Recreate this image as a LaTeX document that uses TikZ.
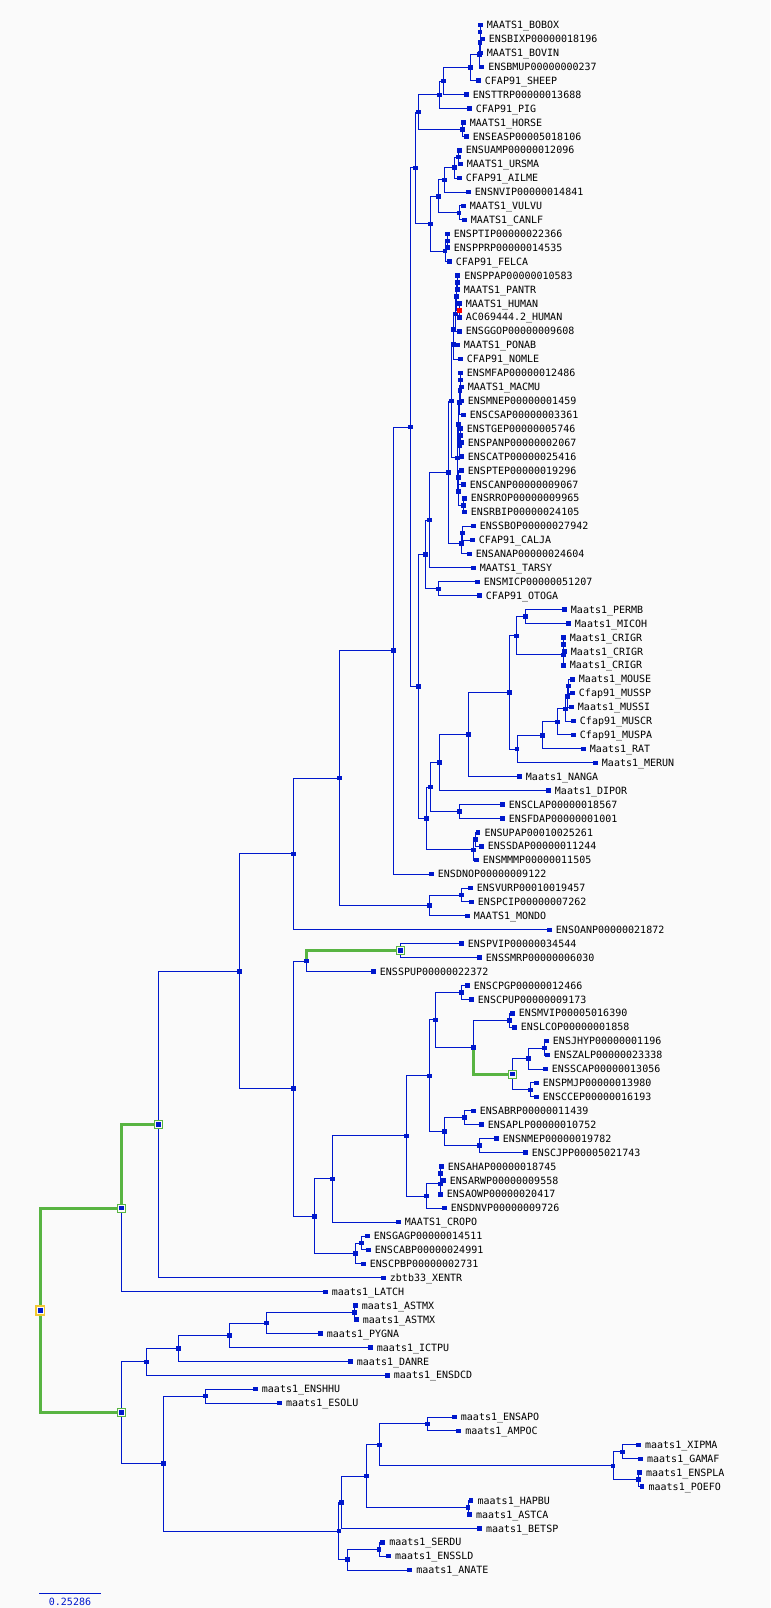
\documentclass[tikz,border=0pt]{standalone}
\usepackage{fontspec}
\setmonofont{DejaVu Sans Mono}
\usepackage{xcolor}
\usepackage{tikz}
\usetikzlibrary{positioning,calc,backgrounds}
\definecolor{treeblue}{RGB}{0,24,204}
\definecolor{selgreen}{RGB}{88,180,66}
\definecolor{rootyel}{RGB}{240,200,50}
\definecolor{hired}{RGB}{255,0,0}
\definecolor{bg}{RGB}{250,250,250}

\begin{document}
\begin{tikzpicture}[x=1pt, y=-13.92pt,
        dot/.style={rectangle, fill=treeblue, minimum size=4.5pt, inner sep=0pt},
        leaf/.style={dot},
        lbl/.style={font=\ttfamily\fontsize{10}{12}\selectfont, inner sep=1pt, text height=7.3pt, text depth=0pt, label distance=3pt},
        box/.style={rectangle, draw=selgreen, line width=1pt, fill=bg, minimum size=8pt, inner sep=0pt,
            path picture={\fill[treeblue] ([shift={(-2.25pt,-2.25pt)}]path picture bounding box.center) rectangle +(4.5pt,4.5pt);}},
        rootbox/.style={box, draw=rootyel, line width=1.6pt, minimum size=8.5pt},
        edge/.style={treeblue, line width=1pt},
        hilite/.style={selgreen, line width=3.2pt}
    ]
        \useasboundingbox (0,-0.796) rectangle (770,114.72);

        % leaves
        \foreach \k/\xx/\lab in {
            1/480.3/MAATS1\_BOBOX, 2/482.3/ENSBIXP00000018196, 3/480.3/MAATS1\_BOVIN,
            4/481.7/ENSBMUP00000000237, 5/478.3/CFAP91\_SHEEP, 6/466.3/ENSTTRP00000013688,
            7/469.3/CFAP91\_PIG, 8/463.3/MAATS1\_HORSE, 9/466.3/ENSEASP00005018106,
            10/459.3/ENSUAMP00000012096, 11/460.3/MAATS1\_URSMA, 12/459.3/CFAP91\_AILME,
            13/468.3/ENSNVIP00000014841, 14/463.3/MAATS1\_VULVU, 15/464.3/MAATS1\_CANLF,
            16/447.3/ENSPTIP00000022366, 17/447.3/ENSPPRP00000014535, 18/449.3/CFAP91\_FELCA,
            19/457.7/ENSPPAP00000010583, 20/457.3/MAATS1\_PANTR, 21/459.3/MAATS1\_HUMAN,
            22/459.3/AC069444.2\_HUMAN, 23/459.3/ENSGGOP00000009608, 24/457.3/MAATS1\_PONAB,
            25/460.3/CFAP91\_NOMLE, 26/460.3/ENSMFAP00000012486, 27/461.3/MAATS1\_MACMU,
            28/461.3/ENSMNEP00000001459, 29/463.3/ENSCSAP00000003361, 30/460.3/ENSTGEP00000005746,
            31/461.3/ENSPANP00000002067, 32/461.3/ENSCATP00000025416, 33/461.3/ENSPTEP00000019296,
            34/463.3/ENSCANP00000009067, 35/464.3/ENSRROP00000009965, 36/464.3/ENSRBIP00000024105,
            37/473.3/ENSSBOP00000027942, 38/472.3/CFAP91\_CALJA, 39/469.3/ENSANAP00000024604,
            40/473.3/MAATS1\_TARSY, 41/477.3/ENSMICP00000051207, 42/479.3/CFAP91\_OTOGA,
            43/564.3/Maats1\_PERMB, 44/568.3/Maats1\_MICOH, 45/563.3/Maats1\_CRIGR,
            46/564.3/Maats1\_CRIGR, 47/563.3/Maats1\_CRIGR, 48/572.3/Maats1\_MOUSE,
            49/572.3/Cfap91\_MUSSP, 50/571.3/Maats1\_MUSSI, 51/573.3/Cfap91\_MUSCR,
            52/573.3/Cfap91\_MUSPA, 53/583.3/Maats1\_RAT, 54/595.3/Maats1\_MERUN,
            55/519.3/Maats1\_NANGA, 56/548.3/Maats1\_DIPOR, 57/502.3/ENSCLAP00000018567,
            58/502.3/ENSFDAP00000001001, 59/478.0/ENSUPAP00010025261, 60/481.3/ENSSDAP00000011244,
            61/476.3/ENSMMMP00000011505, 62/431.3/ENSDNOP00000009122, 63/470.3/ENSVURP00010019457,
            64/471.3/ENSPCIP00000007262, 65/467.3/MAATS1\_MONDO, 66/549.3/ENSOANP00000021872,
            67/461.3/ENSPVIP00000034544, 68/479.3/ENSSMRP00000006030, 69/373.3/ENSSPUP00000022372,
            70/467.3/ENSCPGP00000012466, 71/471.3/ENSCPUP00000009173, 72/512.3/ENSMVIP00005016390,
            73/514.3/ENSLCOP00000001858, 74/546.3/ENSJHYP00000001196, 75/547.3/ENSZALP00000023338,
            76/545.3/ENSSCAP00000013056, 77/536.3/ENSPMJP00000013980, 78/536.3/ENSCCEP00000016193,
            79/473.3/ENSABRP00000011439, 80/481.3/ENSAPLP00000010752, 81/496.3/ENSNMEP00000019782,
            82/525.3/ENSCJPP00005021743, 83/441.3/ENSAHAP00000018745, 84/443.3/ENSARWP00000009558,
            85/440.3/ENSAOWP00000020417, 86/444.3/ENSDNVP00000009726, 87/398.3/MAATS1\_CROPO,
            88/367.3/ENSGAGP00000014511, 89/368.3/ENSCABP00000024991, 90/363.3/ENSCPBP00000002731,
            91/383.3/zbtb33\_XENTR, 92/325.3/maats1\_LATCH, 93/355.3/maats1\_ASTMX,
            94/356.3/maats1\_ASTMX, 95/320.3/maats1\_PYGNA, 96/370.3/maats1\_ICTPU,
            97/350.3/maats1\_DANRE, 98/387.3/maats1\_ENSDCD, 99/255.3/maats1\_ENSHHU,
            100/279.5/maats1\_ESOLU, 101/454.3/maats1\_ENSAPO, 102/458.7/maats1\_AMPOC,
            103/638.5/maats1\_XIPMA, 104/640.5/maats1\_GAMAF, 105/639.5/maats1\_ENSPLA,
            106/642.0/maats1\_POEFO, 107/471.0/maats1\_HAPBU, 108/469.5/maats1\_ASTCA,
            109/479.4/maats1\_BETSP, 110/382.6/maats1\_SERDU, 111/388.5/maats1\_ENSSLD,
            112/409.6/maats1\_ANATE}
            \node[leaf, label={[lbl]right:\lab}] (l\k) at (\xx,\k) {};

        % inner nodes
        \foreach \nm/\xx/\yy in {
            bo1/480/1.5, bo2/480/2.25, bo3/479.7/3.125, bo4/470.3/4.06, cet/443.3/5.03, art/439.3/6.02,
            hor/462.3/8.5, lau1/418.3/7.26, ca1/458.3/10.5, ca2/454.3/11.25, ca3/444.3/12.125,
            ca4/459/14.5, ca5/438.3/13.31, fe1/447.3/16.5, fe2/445/17.25, carn/430.3/15.28, laur/415.3/11.27,
            pa1/457.3/19.5, pa2/456.3/20.5, ho1/455.3/21.75, ho2/453.3/22.875, ho3/453.3/23.94,
            mc1/460.3/26.5, mc2/460/27.25, mc3/459.3/28.125, pp1/460.3/30.5, pp2/459.5/31.25,
            cer/458.3/29.69, co1/458.3/33.5, co2/463.3/35.5, co3/458.3/34.5, owm/457.3/32.09,
            cat/451.3/28.02, nw1/462.7/37.5, nw2/461.3/38.25, sim/448.3/33.13, hap/429.3/36.57,
            str/438.3/41.5, pri/425.3/39.03,
            cr1/525.3/43.5, cr2/563.3/45.5, cr3/563.3/46.25, cri/516.3/44.875, mu1/568.3/48.5,
            mu2/567.3/49.25, mu3/565.3/50.125, mu4/557.3/51.06, mu5/542.3/52.03, mu6/517/53.02,
            mur/509.3/48.95, ro1/468.3/51.97, ro2/439.3/53.99, sq/459.3/57.5, rod/430.3/55.74,
            sc1/475.3/59.5, sc2/473.3/60.25, gli/426.3/58.0, euar/418.3/48.51, boreo/410.3/29.89,
            plac/393.3/45.95, ma1/461.3/63.5, mar/429.3/64.25, the/339.3/55.1, mam/293.3/60.55,
            tu2/306.3/68.25, bi1/461.3/70.5, bi2/509.3/72.5, bi3/544.3/74.5, bi4/528.3/75.25,
            bi5/530.3/77.5, bi7/473.3/74.44, bi8/435.3/72.47, bi9/464.3/79.5, bi10/479.3/81.5,
            bi11/444.3/80.5, bi12/429.3/76.49, bi13/440.3/83.5, bi14/440.3/84.25, bi15/426.3/85.125,
            bi16/406.3/80.8, bi17/332.3/83.9, tt1/361.3/88.5, tt2/355.3/89.25, rep/314.3/86.58,
            sau/293.3/77.41, amn/239.3/68.98,
            fi1/354.3/93.5, fi2/266.3/94.25, fi3/229.3/95.125, fi4/178.3/96.06, fi5/146.3/97.03,
            es/205.3/99.5, ac1/427.3/101.5, po1/622.3/103.5, po2/638.5/105.5, po3/613/104.5,
            ac2/379.7/103, ci/468.1/107.5, ac3/366.4/105.25, ac4/341.4/107.125, se1/379.2/110.5,
            se2/347.7/111.25, ac5/338.9/109.19, eut/163.6/104.34}
            \node[dot] (\nm) at (\xx,\yy) {};
        \node[dot, fill=hired] (hu) at (459.3,21.5) {};

        % selected path
        \node[box] (tu1) at (400.3,67.5) {};
        \node[box] (bi6) at (512.3,76.375) {};
        \node[box] (tet) at (158.3,79.99) {};
        \node[box] (sar) at (121.3,85.995) {};
        \node[box] (tel) at (121.3,100.69) {};
        \node[rootbox] (root) at (40.3,93.35) {};

        % scale bar
        \coordinate (sbl) at (39.3,113.69);
        \coordinate (sbr) at (100.7,113.69);
        \draw[treeblue, line width=1.6pt] (sbl) -- (sbr);
        \node[lbl, text=treeblue] (sbt) at (70,114.27) {0.25286};

        \begin{scope}[on background layer]
            \fill[bg] (0,-0.796) rectangle (770,114.72);
            \foreach \p/\c in {
                bo1/l1, bo1/l2, bo2/bo1, bo2/l3, bo3/bo2, bo3/l4, bo4/bo3, bo4/l5, cet/bo4, cet/l6,
                art/cet, art/l7, hor/l8, hor/l9, lau1/art, lau1/hor,
                ca1/l10, ca1/l11, ca2/ca1, ca2/l12, ca3/ca2, ca3/l13, ca4/l14, ca4/l15, ca5/ca3, ca5/ca4,
                fe1/l16, fe1/l17, fe2/fe1, fe2/l18, carn/ca5, carn/fe2, laur/lau1, laur/carn,
                pa1/l19, pa1/l20, hu/l21, hu/l22, pa2/pa1, pa2/hu, ho1/pa2, ho1/l23, ho2/ho1, ho2/l24,
                ho3/ho2, ho3/l25,
                mc1/l26, mc1/l27, mc2/mc1, mc2/l28, mc3/mc2, mc3/l29, pp1/l30, pp1/l31, pp2/pp1, pp2/l32,
                cer/mc3, cer/pp2, co1/l33, co1/l34, co2/l35, co2/l36, co3/co1, co3/co2, owm/cer, owm/co3,
                cat/ho3, cat/owm, nw1/l37, nw1/l38, nw2/nw1, nw2/l39, sim/cat, sim/nw2, hap/sim, hap/l40,
                str/l41, str/l42, pri/hap, pri/str,
                cr1/l43, cr1/l44, cr2/l45, cr2/l46, cr3/cr2, cr3/l47, cri/cr1, cri/cr3,
                mu1/l48, mu1/l49, mu2/mu1, mu2/l50, mu3/mu2, mu3/l51, mu4/mu3, mu4/l52, mu5/mu4, mu5/l53,
                mu6/mu5, mu6/l54, mur/cri, mur/mu6, ro1/mur, ro1/l55, ro2/ro1, ro2/l56, sq/l57, sq/l58,
                rod/ro2, rod/sq, sc1/l59, sc1/l60, sc2/sc1, sc2/l61, gli/rod, gli/sc2, euar/pri, euar/gli,
                boreo/laur, boreo/euar, plac/boreo, plac/l62,
                ma1/l63, ma1/l64, mar/ma1, mar/l65, the/plac, the/mar, mam/the, mam/l66,
                tu1/l67, tu1/l68, tu2/l69, bi1/l70, bi1/l71, bi2/l72, bi2/l73, bi3/l74, bi3/l75,
                bi4/bi3, bi4/l76, bi5/l77, bi5/l78, bi6/bi4, bi6/bi5, bi7/bi2, bi8/bi1, bi8/bi7,
                bi9/l79, bi9/l80, bi10/l81, bi10/l82, bi11/bi9, bi11/bi10, bi12/bi8, bi12/bi11,
                bi13/l83, bi13/l84, bi14/bi13, bi14/l85, bi15/bi14, bi15/l86, bi16/bi12, bi16/bi15,
                bi17/bi16, bi17/l87, tt1/l88, tt1/l89, tt2/tt1, tt2/l90, rep/bi17, rep/tt2,
                sau/tu2, sau/rep, amn/mam, amn/sau, tet/amn, tet/l91, sar/l92,
                fi1/l93, fi1/l94, fi2/fi1, fi2/l95, fi3/fi2, fi3/l96, fi4/fi3, fi4/l97, fi5/fi4, fi5/l98,
                es/l99, es/l100, ac1/l101, ac1/l102, po1/l103, po1/l104, po2/l105, po2/l106,
                po3/po1, po3/po2, ac2/ac1, ac2/po3, ci/l107, ci/l108, ac3/ac2, ac3/ci, ac4/ac3, ac4/l109,
                se1/l110, se1/l111, se2/se1, se2/l112, ac5/ac4, ac5/se2, eut/es, eut/ac5,
                tel/fi5, tel/eut}
                \draw[edge] (\p.center) |- (\c.center);
            \foreach \p/\c in {tu2/tu1, bi7/bi6, sar/tet, root/sar, root/tel}
                \draw[hilite] (\p.center) |- (\c.center);
        \end{scope}
    \end{tikzpicture}
\end{document}
